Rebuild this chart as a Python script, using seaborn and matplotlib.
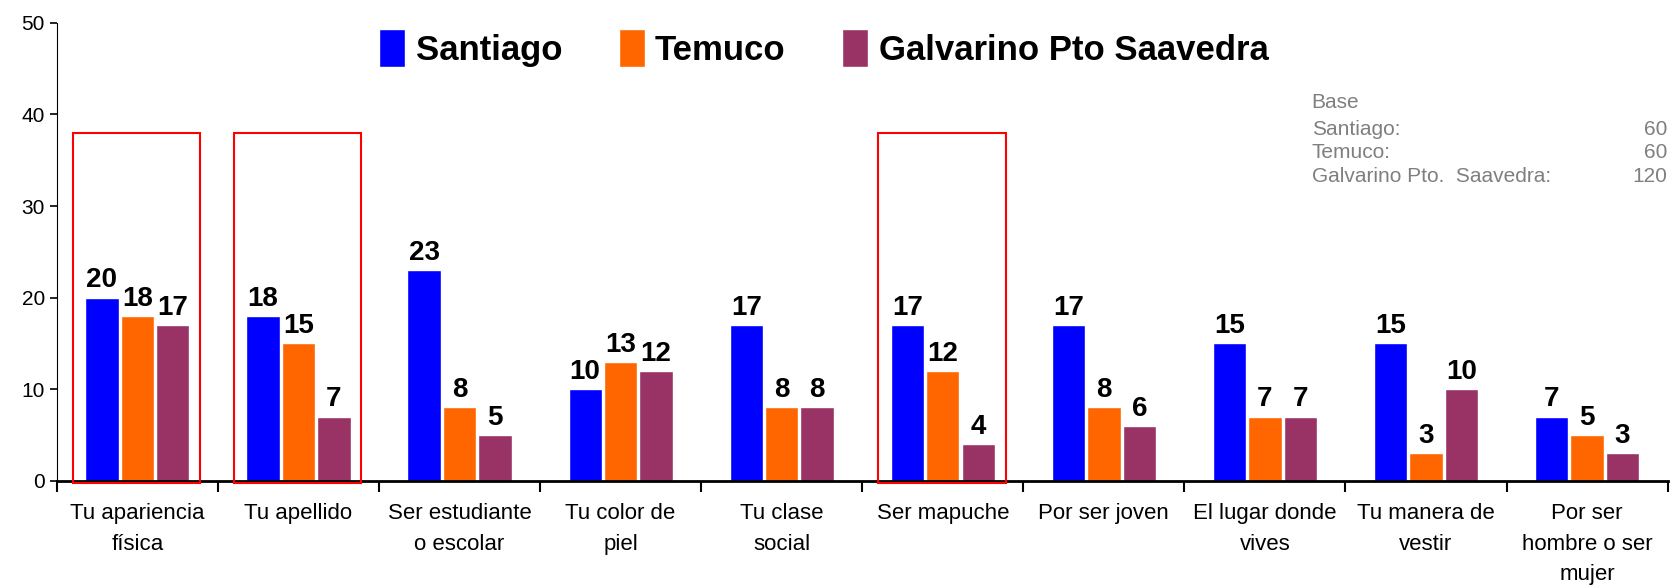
import pandas as pd
import numpy as np
import matplotlib.pyplot as plt
import seaborn as sns
from matplotlib.patches import Rectangle

sns.set_style("white")
plt.rcParams['font.family'] = ['Liberation Sans', 'DejaVu Sans']
plt.rcParams['text.color'] = 'black'
plt.rcParams['xtick.color'] = 'black'
plt.rcParams['ytick.color'] = 'black'

categories = ["Tu apariencia\nfísica", "Tu apellido", "Ser estudiante\no escolar",
              "Tu color de\npiel", "Tu clase\nsocial", "Ser mapuche", "Por ser joven",
              "El lugar donde\nvives", "Tu manera de\nvestir", "Por ser\nhombre o ser\nmujer"]
groups = ["Santiago", "Temuco", "Galvarino Pto Saavedra"]
santiago = [20, 18, 23, 10, 17, 17, 17, 15, 15, 7]
temuco = [18, 15, 8, 13, 8, 12, 8, 7, 3, 5]
galvarino = [17, 7, 5, 12, 8, 4, 6, 7, 10, 3]
highlighted = [0, 1, 5]
colors = ["#0000FF", "#FF6600", "#993366"]

base_labels = ["Santiago:", "Temuco:", "Galvarino Pto.  Saavedra:"]
base_values = [60, 60, 120]

rows = []
for g, vals in zip(groups, [santiago, temuco, galvarino]):
    for c, v in zip(categories, vals):
        rows.append({"categoria": c, "grupo": g, "valor": v})
df = pd.DataFrame(rows)

fig = plt.figure(figsize=(16.71, 5.87), dpi=100)
ax = fig.add_axes([0.034, 0.181, 0.964, 0.780])

sns.barplot(data=df, x="categoria", y="valor", hue="grupo", order=categories,
            hue_order=groups, palette=colors, width=0.66, gap=0.06,
            saturation=1, ax=ax, legend=True)

for cont in ax.containers:
    ax.bar_label(cont, fmt="%d", padding=3, fontsize=20, fontweight="bold", color="black")

ax.set_ylim(0, 50)
ax.set_xlim(-0.5, len(categories) - 0.5)
ax.set_yticks(range(0, 51, 10))
ax.set_xlabel("")
ax.set_ylabel("")
ax.set_xticks(np.arange(len(categories)))
ax.set_xticklabels(categories, fontsize=16, linespacing=1.6)
ax.tick_params(axis="x", length=0, pad=16)
ax.tick_params(axis="y", labelsize=15, length=5, width=1.2, direction="out", left=True)
ax.set_xticks(np.arange(len(categories) + 1) - 0.5, minor=True)
ax.tick_params(axis="x", which="minor", length=8, width=1.5, bottom=True, direction="out")
for side in ["top", "right"]:
    ax.spines[side].set_visible(False)
ax.spines["left"].set_color("black")
ax.spines["bottom"].set_color("black")
ax.spines["bottom"].set_linewidth(2)

for i in highlighted:
    ax.add_patch(Rectangle((i - 0.40, -0.2), 0.79, 38.2, fill=False,
                           edgecolor="#FF0000", linewidth=1.5, clip_on=False, zorder=5))

handles, labels = ax.get_legend_handles_labels()
ax.legend(handles, labels, loc="center", bbox_to_anchor=(0.493, 0.918),
          bbox_transform=fig.transFigure, ncol=3, frameon=False,
          prop={"size": 25, "weight": "bold"}, handlelength=0.75, handleheight=1.3,
          handletextpad=0.3, columnspacing=1.63)

fig.text(0.785, 0.825, "Base", fontsize=15, color="#7F7F7F", va="center")
for k, (lab, val) in enumerate(zip(base_labels, base_values)):
    y = 0.78 - k * 0.04
    fig.text(0.785, y, lab, fontsize=15, color="#7F7F7F", va="center")
    fig.text(0.998, y, str(val), fontsize=15, color="#7F7F7F", va="center", ha="right")

plt.savefig("out.png", dpi=100)
